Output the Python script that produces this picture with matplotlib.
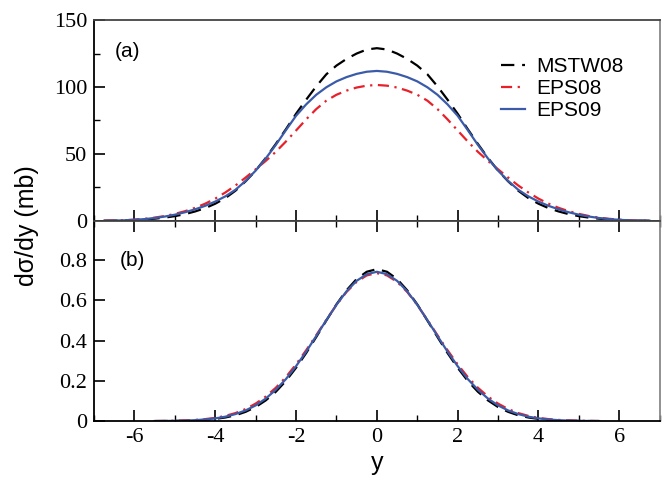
import matplotlib.pyplot as plt
import numpy as np
from matplotlib.ticker import MultipleLocator

SERIF = 'Liberation Serif'
SANS = 'Liberation Sans'
plt.rcParams['font.family'] = SERIF
plt.rcParams['axes.unicode_minus'] = False

# rapidity values y >= 0 (the curves are symmetric, mirrored below)
y_top = np.arange(0, 6.76, 0.25)
y_bot = np.arange(0, 5.51, 0.25)

# (a) d(sigma)/dy in mb
mstw_a = [129, 128, 125, 121, 116, 109.5, 100.5, 90.5, 80, 68.5, 57.5, 47, 37.5, 29.5,
          22.5, 17, 12.8, 9.5, 7.0, 5.0, 3.5, 2.4, 1.6, 1.0, 0.6, 0.3, 0.15, 0.06]
eps08_a = [101.5, 101, 99.6, 97.3, 94.2, 89.8, 83.5, 75.8, 67.5, 59.3, 51.6, 44.8, 38.5, 32.3,
           26.4, 21.2, 16.6, 12.8, 9.7, 7.2, 5.2, 3.6, 2.4, 1.5, 0.9, 0.5, 0.25, 0.1]
eps09_a = [112, 111.4, 109.8, 107.4, 104.2, 99.8, 94.2, 87.0, 78.5, 67.8, 56.8, 46.6, 37.5, 29.8,
           23.2, 18.3, 14.4, 11.2, 8.6, 6.4, 4.6, 3.2, 2.1, 1.3, 0.75, 0.4, 0.2, 0.08]

# (b)
mstw_b = [0.755, 0.742, 0.706, 0.650, 0.580, 0.500, 0.418, 0.338, 0.265, 0.200, 0.146, 0.103,
          0.070, 0.046, 0.029, 0.018, 0.011, 0.0063, 0.0035, 0.0019, 0.001, 0.0005, 0.0002]
eps08_b = [0.735, 0.724, 0.692, 0.642, 0.577, 0.503, 0.427, 0.352, 0.282, 0.219, 0.166, 0.122,
           0.087, 0.060, 0.040, 0.026, 0.016, 0.010, 0.006, 0.0034, 0.0019, 0.001, 0.0005]
eps09_b = [0.742, 0.730, 0.697, 0.645, 0.578, 0.502, 0.423, 0.345, 0.273, 0.209, 0.156, 0.112,
           0.078, 0.053, 0.035, 0.022, 0.0136, 0.0081, 0.0047, 0.0026, 0.0014, 0.0008, 0.0004]

labels = ['MSTW08', 'EPS08', 'EPS09']
colors = ['black', '#e8202a', '#3b5ba9']


def mirror(y, v):
    v = np.asarray(v)
    return np.concatenate([-y[:0:-1], y]), np.concatenate([v[:0:-1], v])


fig = plt.figure(figsize=(6.67, 4.78), dpi=100)
ax1 = fig.add_axes([0.141, 0.538, 0.848, 0.420])
ax2 = fig.add_axes([0.141, 0.119, 0.848, 0.419])

styles = [dict(ls=(0, (6, 3.5)), lw=1.6),
          dict(ls=(0, (5, 2.5, 1, 2.5)), lw=1.6),
          dict(ls='-', lw=1.6)]

for ax, series, yy in [(ax1, [mstw_a, eps08_a, eps09_a], y_top),
                       (ax2, [mstw_b, eps08_b, eps09_b], y_bot)]:
    for vals, lab, c, st in zip(series, labels, colors, styles):
        x, v = mirror(yy, vals)
        ax.plot(x, v, color=c, label=lab, **st)
    ax.set_xlim(-7, 7)
    ax.xaxis.set_major_locator(MultipleLocator(2))
    ax.xaxis.set_minor_locator(MultipleLocator(1))
    for sp in ax.spines.values():
        sp.set_linewidth(1.3)
    ax.spines['right'].set_color('#888888')
    ax.spines['top'].set_color('#444444')

ax1.set_ylim(0, 150)
ax1.yaxis.set_major_locator(MultipleLocator(50))
ax1.yaxis.set_minor_locator(MultipleLocator(25))
ax1.tick_params(which='both', direction='in', top=False, right=False, labelbottom=False)
ax1.tick_params(which='major', length=8, width=1.2, labelsize=16, pad=5)
ax1.tick_params(which='minor', length=4.5, width=1.0)

ax2.set_ylim(0, 0.995)
ax2.set_yticks([0, 0.2, 0.4, 0.6, 0.8])
ax2.yaxis.set_major_formatter(plt.FuncFormatter(lambda v, p: '0' if v == 0 else f'{v:.1f}'))
ax2.tick_params(which='both', direction='in', top=True, right=False)
ax2.tick_params(which='major', length=8, width=1.2, labelsize=16, pad=5)
ax2.tick_params(which='minor', length=4.5, width=1.0)
ax2.tick_params(axis='y', which='minor', left=False)

ax1.text(0.037, 0.842, '(a)', transform=ax1.transAxes, fontsize=15,
         family=SANS, va='center', ha='left')
ax2.text(0.046, 0.80, '(b)', transform=ax2.transAxes, fontsize=15,
         family=SANS, va='center', ha='left')

ax1.legend(loc='upper left', bbox_to_anchor=(0.719, 0.815), frameon=False,
           prop={'family': SANS, 'size': 15}, handlelength=1.15,
           handletextpad=0.55, labelspacing=0.15, borderpad=0, borderaxespad=0)

fig.text(0.04, 0.527, 'dσ/dy (mb)', rotation=90, fontsize=18, family=SANS,
         ha='center', va='center')
fig.text(0.565, 0.032, 'y', fontsize=18, family=SANS, ha='center', va='center')

fig.savefig('out.png', dpi=100)
